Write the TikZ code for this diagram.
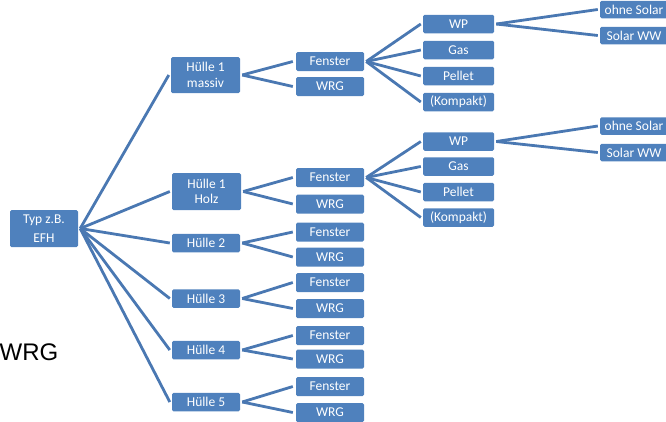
\documentclass[tikz,border=0pt]{standalone}
\usepackage{fontspec}
\setmainfont{Carlito}
\newfontfamily\arialf{Liberation Sans}
\definecolor{boxblue}{HTML}{4F81BD}
\definecolor{lineblue}{HTML}{4A78B2}
\begin{document}
\begin{tikzpicture}[x=1pt,y=-1pt,
  bx/.style={fill=boxblue, draw=none, rounded corners=1.5pt, text=white,
    font=\fontsize{13.5}{15.5}\selectfont, align=center, inner sep=0pt,
    minimum width=68pt, minimum height=19pt},
  big/.style={bx, minimum height=37pt},
  wide/.style={bx, minimum width=71pt, minimum height=18.5pt},
  ln/.style={draw=lineblue, line width=2.8pt}]
\useasboundingbox (0,0) rectangle (666,421);
% root
\node[big, font=\fontsize{13.5}{19}\selectfont] (root) at (44,228.5) {Typ z.B.\\EFH};
% Huellen
\node[big, minimum width=69pt, minimum height=36pt] (h1m) at (205.5,75) {Hülle 1\\massiv};
\node[big, minimum width=69pt] (h1h) at (206.5,191.5) {Hülle 1\\Holz};
\node[bx, minimum height=18.5pt] (h2) at (206,243) {Hülle 2};
\node[bx, minimum height=18.5pt] (h3) at (206,298.5) {Hülle 3};
\node[bx, minimum height=18.5pt] (h4) at (206,350) {Hülle 4};
\node[bx, minimum height=18.5pt] (h5) at (206,402) {Hülle 5};
% Fenster / WRG
\node[bx] (f1) at (330,61.5) {Fenster};
\node[bx] (w1) at (330,86.5) {WRG};
\node[bx] (f2) at (330,177.5) {Fenster};
\node[bx] (w2) at (330,204) {WRG};
\node[bx] (f3) at (330,232) {Fenster};
\node[bx] (w3) at (330,257) {WRG};
\node[bx] (f4) at (330,282.5) {Fenster};
\node[bx] (w4) at (330,308.5) {WRG};
\node[bx] (f5) at (330,335.5) {Fenster};
\node[bx] (w5) at (330,359) {WRG};
\node[bx] (f6) at (330,386.5) {Fenster};
\node[bx] (w6) at (330,412.5) {WRG};
% heating, group 1
\node[wide] (wp1) at (458.5,24) {WP};
\node[wide] (ga1) at (458.5,50) {Gas};
\node[wide] (pe1) at (458.5,76) {Pellet};
\node[wide] (ko1) at (458.5,102) {(Kompakt)};
\node[bx, minimum height=17.5pt] (os1) at (634,9.5) {ohne Solar};
\node[bx, minimum height=17.5pt] (sw1) at (634,35.5) {Solar WW};
% heating, group 2
\node[wide] (wp2) at (458.5,141.5) {WP};
\node[wide] (ga2) at (458.5,166.5) {Gas};
\node[wide] (pe2) at (458.5,192) {Pellet};
\node[wide] (ko2) at (458.5,217.5) {(Kompakt)};
\node[bx, minimum height=17.5pt] (os2) at (634,126) {ohne Solar};
\node[bx, minimum height=17.5pt] (sw2) at (634,152.5) {Solar WW};
% leftover text
\node[anchor=base west, inner sep=0pt, font=\arialf\fontsize{24}{24}\selectfont] (wrg) at (-0.5,360) {WRG};
% connectors
\foreach \h in {h1m,h1h,h2,h3,h4,h5}
  \draw[ln] ([xshift=2pt]root.east) -- ([xshift=-2pt]\h.west);
\foreach \h/\f/\w in {h1m/f1/w1,h1h/f2/w2,h2/f3/w3,h3/f4/w4,h4/f5/w5,h5/f6/w6}{
  \draw[ln] ([xshift=2pt]\h.east) -- ([xshift=-3pt]\f.west);
  \draw[ln] ([xshift=2pt]\h.east) -- ([xshift=-3pt]\w.west);
}
\foreach \f/\a/\b/\c/\d in {f1/wp1/ga1/pe1/ko1,f2/wp2/ga2/pe2/ko2}
  \foreach \t in {\a,\b,\c,\d}
    \draw[ln] ([xshift=2pt]\f.east) -- ([xshift=-2pt]\t.west);
\foreach \p/\o/\s in {wp1/os1/sw1,wp2/os2/sw2}{
  \draw[ln] ([xshift=2pt]\p.east) -- ([xshift=-2pt]\o.west);
  \draw[ln] ([xshift=2pt]\p.east) -- ([xshift=-2pt]\s.west);
}
\end{tikzpicture}
\end{document}
